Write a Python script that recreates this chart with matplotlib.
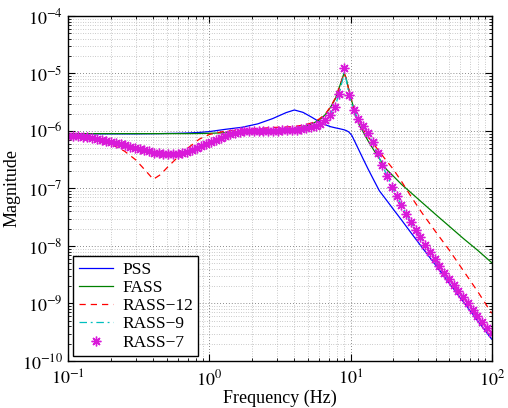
import numpy as np
import matplotlib
matplotlib.use("Agg")
import matplotlib.pyplot as plt
from matplotlib.ticker import LogLocator, NullFormatter

plt.rcParams['font.family'] = ['Liberation Serif', 'DejaVu Serif']
plt.rcParams['mathtext.fontset'] = 'stix'

# ---- data ----
f_line = [0.1, 0.15, 0.2, 0.25, 0.3, 0.35, 0.4, 0.45, 0.5, 0.6, 0.7, 0.85,
          1.0, 1.3, 1.7, 2.2, 2.8, 3.5, 4.0, 4.6, 5.3, 6.0, 6.6, 7.2, 7.8,
          8.3, 8.7, 9.0, 9.3, 9.7, 10.2, 10.8, 11.5, 12.3, 13.3, 14.5, 16,
          18, 20, 23, 27, 32, 40, 50, 63, 80, 100]

pss = [8.91e-7, 8.91e-7, 8.91e-7, 8.91e-7, 8.91e-7, 8.95e-7, 8.97e-7, 9.0e-7,
       9.06e-7, 9.12e-7, 9.23e-7, 9.44e-7,
       9.77e-7, 1.07e-6, 1.16e-6, 1.33e-6, 1.64e-6, 2.09e-6, 2.32e-6, 2.11e-6,
       1.74e-6, 1.45e-6, 1.29e-6, 1.19e-6, 1.135e-6,
       1.10e-6, 1.07e-6, 1.05e-6, 1.02e-6, 9.66e-7, 8.41e-7, 6.31e-7, 4.57e-7,
       3.24e-7, 2.19e-7, 1.45e-7, 9.12e-8,
       6.24e-8, 4.42e-8, 2.82e-8, 1.66e-8, 9.55e-9, 4.68e-9, 2.26e-9, 1.07e-9,
       4.90e-10, 2.40e-10]

fass = [9.0e-7, 9.0e-7, 9.0e-7, 9.0e-7, 9.0e-7, 9.0e-7, 9.0e-7, 9.0e-7,
        9.0e-7, 9.0e-7, 9.0e-7, 9.05e-7,
        9.12e-7, 9.33e-7, 9.55e-7, 9.89e-7, 1.02e-6, 1.06e-6, 1.10e-6, 1.175e-6,
        1.32e-6, 1.55e-6, 1.91e-6, 2.57e-6, 3.63e-6,
        5.62e-6, 7.94e-6, 1.02e-5, 8.3e-6, 5.37e-6, 3.31e-6, 2.0e-6, 1.29e-6,
        9.55e-7, 6.76e-7, 4.79e-7, 3.31e-7,
        2.14e-7, 1.66e-7, 1.175e-7, 8.32e-8, 5.75e-8, 3.55e-8, 2.21e-8, 1.35e-8,
        8.32e-9, 5.13e-9]

rass12 = [8.18e-7, 7.24e-7, 6.03e-7, 4.47e-7, 3.16e-7, 2.09e-7, 1.445e-7, 1.74e-7,
          2.29e-7, 3.55e-7, 5.01e-7, 7.24e-7,
          8.71e-7, 1.0e-6, 1.05e-6, 1.10e-6, 1.15e-6, 1.175e-6, 1.20e-6, 1.26e-6,
          1.38e-6, 1.62e-6, 1.95e-6, 2.63e-6, 3.72e-6,
          5.62e-6, 7.94e-6, 1.02e-5, 8.32e-6, 5.37e-6, 3.31e-6, 2.04e-6, 1.38e-6,
          1.05e-6, 7.94e-7, 6.03e-7, 4.37e-7,
          3.02e-7, 2.19e-7, 1.32e-7, 7.08e-8, 3.80e-8, 1.78e-8, 8.51e-9, 3.72e-9,
          1.585e-9, 6.76e-10]

rass9 = [8.18e-7, 7.45e-7, 6.46e-7, 5.69e-7, 5.07e-7, 4.60e-7, 4.24e-7, 4.04e-7,
         3.94e-7, 3.99e-7, 4.37e-7, 5.31e-7,
         6.31e-7, 8.13e-7, 9.77e-7, 1.02e-6, 1.02e-6, 1.05e-6, 1.06e-6, 1.10e-6,
         1.16e-6, 1.32e-6, 1.55e-6, 2.0e-6, 2.82e-6,
         4.37e-6, 7.08e-6, 1.02e-5, 7.94e-6, 4.68e-6, 2.95e-6, 2.0e-6, 1.51e-6,
         1.20e-6, 9.33e-7, 6.17e-7, 3.39e-7,
         1.74e-7, 1.0e-7, 5.01e-8, 2.51e-8, 1.29e-8, 5.62e-9, 2.63e-9, 1.29e-9,
         5.89e-10, 2.95e-10]

f_mark = np.logspace(-1, 2, 90)
rass7 = [8.18e-7, 8.13e-7, 8.04e-7, 7.94e-7, 7.76e-7, 7.50e-7, 7.24e-7, 7.00e-7,
         6.76e-7, 6.46e-7, 6.17e-7, 5.89e-7, 5.62e-7, 5.37e-7, 5.13e-7, 4.90e-7,
         4.62e-7, 4.42e-7, 4.22e-7, 4.07e-7, 3.98e-7, 3.94e-7, 3.94e-7, 3.98e-7,
         4.12e-7, 4.37e-7, 4.68e-7, 5.07e-7, 5.50e-7, 5.96e-7, 6.46e-7, 7.00e-7,
         7.59e-7, 8.13e-7, 8.71e-7, 9.23e-7, 9.66e-7, 1.0e-6, 1.01e-6, 1.02e-6,
         1.02e-6, 1.02e-6, 1.02e-6, 1.02e-6, 1.02e-6, 1.035e-6, 1.04e-6, 1.05e-6,
         1.06e-6, 1.08e-6, 1.11e-6, 1.16e-6, 1.23e-6, 1.35e-6, 1.55e-6, 1.91e-6,
         2.63e-6, 4.47e-6, 1.23e-5, 4.27e-6, 2.29e-6, 1.585e-6, 1.20e-6, 9.33e-7,
         6.46e-7, 4.07e-7, 2.57e-7, 1.66e-7, 1.07e-7, 7.41e-8, 5.13e-8, 3.59e-8,
         2.60e-8, 1.91e-8, 1.41e-8, 1.06e-8, 7.94e-9, 5.96e-9, 4.52e-9, 3.43e-9,
         2.66e-9, 2.09e-9, 1.64e-9, 1.29e-9, 1.00e-9, 7.76e-10, 6.03e-10, 4.79e-10,
         3.80e-10, 3.02e-10]

labels = ['PSS', 'FASS', 'RASS\u221212', 'RASS\u22129', 'RASS\u22127']
x_ticks = [0.1, 1, 10, 100]
y_ticks = [1e-10, 1e-9, 1e-8, 1e-7, 1e-6, 1e-5, 1e-4]

# ---- figure ----
fig = plt.figure(figsize=(5.08, 4.08), dpi=100)
ax = fig.add_axes([0.1344, 0.1152, 0.8335, 0.8456])

lw = 0.9
ax.plot(f_line, pss, color=(0, 0, 1), lw=lw, label=labels[0])
ax.plot(f_line, fass, color=(0, 0.5, 0), lw=lw, label=labels[1])
ax.plot(f_line, rass12, color=(1, 0, 0), lw=lw, ls=(0, (5, 4)), label=labels[2])
ax.plot(f_line, rass9, color=(0, 0.75, 0.75), lw=lw, ls=(0, (6, 3, 1.5, 3)), label=labels[3])
ax.plot(f_mark, rass7, color=(0.85, 0.1, 0.85), ls='none', marker=(8, 2, 0),
        ms=7, mew=1.0, label=labels[4])

ax.set_xscale('log')
ax.set_yscale('log')
ax.set_xlim(0.1, 100)
ax.set_ylim(1e-10, 1e-4)
ax.set_xticks(x_ticks)
ax.set_yticks(y_ticks)
ax.set_xticklabels([r'$10^{%d}$' % int(np.log10(v)) for v in x_ticks])
ax.set_yticklabels([r'$10^{%d}$' % int(np.log10(v)) for v in y_ticks])
ax.xaxis.set_minor_locator(LogLocator(base=10, subs=np.arange(2, 10), numticks=20))
ax.yaxis.set_minor_locator(LogLocator(base=10, subs=np.arange(2, 10), numticks=20))
ax.xaxis.set_minor_formatter(NullFormatter())
ax.yaxis.set_minor_formatter(NullFormatter())

ax.tick_params(which='both', direction='in', top=True, right=True, labelsize=13)
ax.tick_params(axis='x', which='major', pad=6)
ax.tick_params(axis='y', which='major', pad=4)
ax.tick_params(which='major', length=5, width=0.8)
ax.tick_params(which='minor', length=2.5, width=0.6)
ax.grid(True, which='major', ls=(0, (1, 2.5)), color='0.4', lw=0.6)
ax.grid(True, which='minor', ls=(0, (1, 2.5)), color='0.6', lw=0.5)
for s in ax.spines.values():
    s.set_linewidth(1.0)

ax.set_xlabel('Frequency (Hz)', fontsize=13, labelpad=0)
ax.set_ylabel('Magnitude', fontsize=13, labelpad=1)

leg = ax.legend(loc='lower left', fontsize=12.5, numpoints=1, handlelength=2.0,
                labelspacing=0.12, borderaxespad=0.3, borderpad=0.3,
                handletextpad=0.5, fancybox=False, framealpha=1,
                edgecolor='black')
leg.get_frame().set_linewidth(1.0)

fig.savefig('out.png', dpi=100)
